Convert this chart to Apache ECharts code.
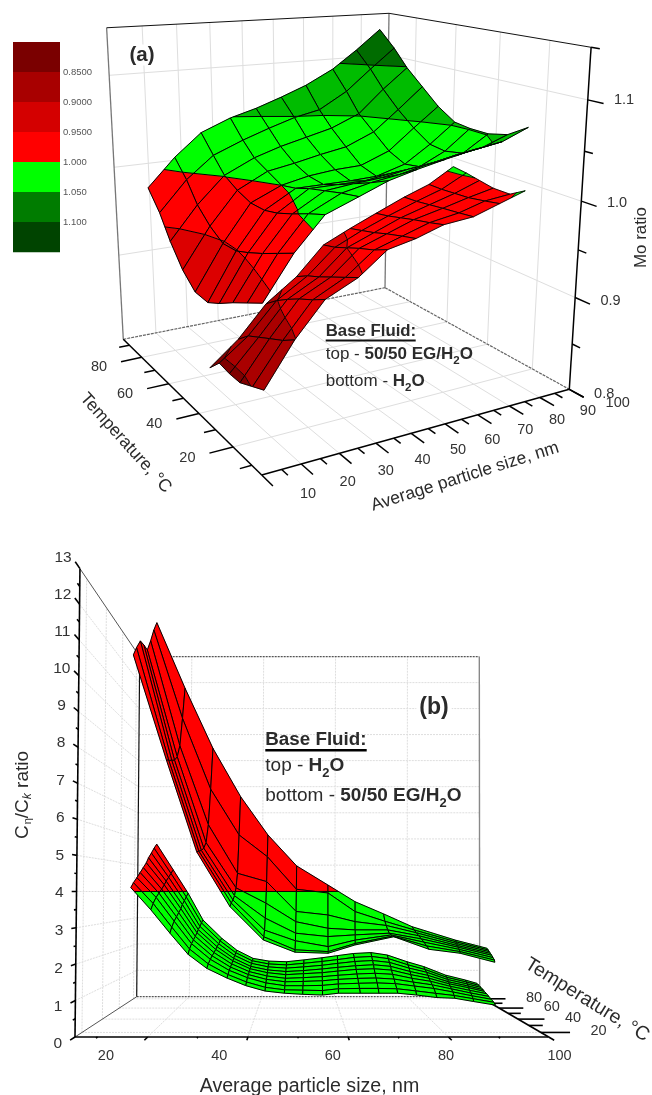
<!DOCTYPE html>
<html><head><meta charset="utf-8">
<style>html,body{margin:0;padding:0;background:#fff}#c{width:652px;height:1095px}</style>
<script src="https://cdn.jsdelivr.net/npm/echarts@6/dist/echarts.min.js"></script>
</head><body><div id="c"></div>
<script>
// ---------- legend of panel (a)
const legendColors=['#7a0000','#a80000','#d40000','#ff0000','#00ff00','#007c00','#004400'];
const legendLabels=['0.8500','0.9000','0.9500','1.000','1.050','1.100'];
// ---------- panel (a) data: Mo ratio, rows = temperature, columns = particle size
const moSizes=[6.3,14.4,22.5,31.5,39.6,47.7,55.8,64.8,72.9,81];
const moTempsEG=[86,78,71,63,55,47,40,32,24,16];
const moValuesEG=[
[.982,1.012,1.036,1.049,1.057,1.067,1.078,1.094,1.114,1.136],
[.962,.994,1.017,1.030,1.040,1.049,1.055,1.073,1.096,1.118],
[.938,.973,1.001,1.016,1.025,1.032,1.039,1.052,1.077,1.099],
[.916,.958,.992,1.008,1.013,1.019,1.024,1.037,1.059,1.082],
[.902,.948,.986,1.000,1.006,1.009,1.010,1.022,1.044,1.065],
[.901,.949,.986,1.004,1.004,1.004,1.005,1.014,1.032,1.053],
[.909,.955,.990,1.010,1.010,1.010,1.014,1.017,1.030,1.051],
[.920,.963,.997,1.015,1.018,1.020,1.025,1.029,1.034,1.051],
[.930,.972,1.005,1.020,1.026,1.030,1.036,1.042,1.046,1.056],
[.940,.981,1.012,1.024,1.035,1.042,1.048,1.054,1.058,1.069]];
const moTempsW=[47,41,35,29,22,16];
const moValuesW=[
[.832,.856,.888,.911,.940,.953,.965,.978,.988,1.004],
[.846,.868,.899,.919,.944,.957,.968,.979,.988,1.002],
[.844,.875,.908,.925,.950,.961,.972,.981,.989,.999],
[.844,.882,.916,.932,.956,.966,.976,.983,.990,.996],
[.851,.890,.924,.940,.962,.971,.980,.985,.993,.996],
[.857,.899,.932,.947,.969,.975,.984,.987,.996,1.005]];
const moLevels=[.85,.9,.95,1,1.05,1.1];
const moBandColors=['#800000','#aa0000','#dc0000','#ff0000','#00ff00','#00bc00','#006c00'];
// ---------- panel (b) data: C_eta/C_k ratio, rows = temperature, columns = particle size
const ratioTempsW=[50,45,40,35,30,25,20,16];
const ratioSizesWBack=[15.6,22.5,29.3,36,42.6,49.5,57,63.5,70.3,77.1,87.4,95];
const ratioSizesWFront=[16.1,23,29.3,36.1,42.9,49.3,56,61.4,69.3,76.4,82.7,89.7];
const ratioValuesWByCol=[
[12.92,12.48,11.94,11.47,11.44,11.38,11.0,10.65],
[10.73,9.6,8.6,8.15,7.95,7.85,7.75,7.69],
[8.73,7.3,6.1,5.5,5.3,5.2,5.15,5.11],
[7.13,5.82,4.57,4.11,3.87,3.75,3.67,3.58],
[5.86,5.12,4.31,3.64,3.2,2.87,2.71,2.65],
[4.84,4.07,3.37,3.07,2.75,2.56,2.34,2.31],
[4.21,3.95,3.26,2.87,2.65,2.39,2.29,2.28],
[3.66,3.35,3.05,2.82,2.7,2.58,2.52,2.51],
[3.26,3.04,2.93,2.82,2.75,2.73,2.73,2.74],
[2.84,2.76,2.7,2.64,2.58,2.52,2.45,2.39],
[2.40,2.38,2.36,2.34,2.33,2.31,2.29,2.28],
[2.13,2.12,2.11,2.10,2.09,2.07,2.05,2.03]];
const ratioTempsEG=[50,46,42,38,35,31,27,23,19,16];
const ratioSizesEGBack=[16,20,23.6,27.2,31.7,35.3,39.2,43,47.2,51.3,55.6,59.3,63.1,67.3,71.2,75.9,79.9,85.1,89.8,92.6];
const ratioSizesEGFront=[16,20.1,24,27.7,31.5,35.6,39.4,43.3,47.2,50.9,54.9,58.1,62.5,66.3,70.1,73.9,78,81.6,85.4,89.8];
const ratioValuesEGByCol=[
[5.56,5.40,5.22,5.05,4.88,4.72,4.56,4.40,4.25,4.11],
[4.71,4.58,4.45,4.32,4.20,4.07,3.95,3.83,3.66,3.49],
[3.94,3.82,3.70,3.59,3.47,3.36,3.25,3.14,2.99,2.84],
[3.06,2.98,2.89,2.81,2.73,2.65,2.57,2.49,2.37,2.25],
[2.46,2.40,2.34,2.28,2.22,2.16,2.10,2.04,1.95,1.86],
[2.07,2.02,1.97,1.92,1.87,1.82,1.77,1.72,1.65,1.59],
[1.80,1.76,1.72,1.67,1.63,1.59,1.55,1.51,1.44,1.38],
[1.71,1.66,1.61,1.56,1.51,1.46,1.41,1.36,1.29,1.23],
[1.69,1.63,1.57,1.51,1.45,1.39,1.34,1.28,1.22,1.17],
[1.75,1.68,1.61,1.54,1.48,1.41,1.35,1.28,1.21,1.14],
[1.82,1.74,1.66,1.59,1.51,1.44,1.37,1.29,1.20,1.12],
[1.89,1.80,1.72,1.64,1.56,1.48,1.41,1.33,1.25,1.17],
[1.96,1.87,1.78,1.69,1.61,1.52,1.44,1.35,1.26,1.17],
[1.99,1.90,1.81,1.72,1.63,1.54,1.45,1.36,1.26,1.17],
[1.91,1.83,1.75,1.67,1.59,1.51,1.42,1.34,1.25,1.17],
[1.69,1.63,1.57,1.51,1.45,1.39,1.33,1.27,1.19,1.12],
[1.53,1.48,1.44,1.39,1.34,1.30,1.25,1.20,1.12,1.05],
[1.25,1.23,1.21,1.19,1.17,1.15,1.13,1.10,1.06,1.03],
[1.09,1.08,1.07,1.06,1.05,1.03,1.01,.99,.97,.94],
[.98,.97,.96,.95,.94,.93,.91,.89,.87,.84]];
const ratioLevels=[4];
const ratioBandColors=['#00ff00','#ff0000'];
// ---------- tick values
const aSizeMajor=[10,20,30,40,50,60,70,80,90], aSizeMinor=[5,15,25,35,45,55,65,75,85];
const aSizeLabels=['10','20','30','40','50','60','70','80','90','100'];
const aTempMajor=[20,40,60,80], aTempMinor=[10,30,50,70,90];
const aZMajor=[.8,.9,1.0,1.1], aZMinor=[.85,.95,1.05,1.15];
const bSizeMajor=[20,40,60,80,100], bSizeMinor=[10,30,50,70,90];
const bTempMajor=[20,40,60,80], bTempMinor=[30,50,70];
const bZLabels=[0,1,2,3,4,5,6,7,8,9,10,11,12,13];

// ---------- perspective box: maps (size,temperature,value) to the page plane
function makePanel(c){
  const [L,R,F,D,T]=[c.L,c.R,c.F,c.D,c.T];
  const a1=L[0]-F[0],b1=R[0]-F[0],c1=D[0]-F[0],a2=L[1]-F[1],b2=R[1]-F[1],c2=D[1]-F[1];
  const det=a1*b2-a2*b1, al=(c1*b2-c2*b1)/det, be=(a1*c2-a2*c1)/det, g=c.gamma;
  return Object.assign({},c,{project(s,t,z){
    const u=(c.sRange[1]-s)/(c.sRange[1]-c.sRange[0]);
    const v=(c.tRange[1]-t)/(c.tRange[1]-c.tRange[0]);
    const w=(z-c.zRange[0])/(c.zRange[1]-c.zRange[0]);
    const W=1+u*(al-1)+v*(be-1)+w*(g-1);
    return [(D[0]+u*(al*L[0]-D[0])+v*(be*R[0]-D[0])+w*(g*T[0]-D[0]))/W,
            (D[1]+u*(al*L[1]-D[1])+v*(be*R[1]-D[1])+w*(g*T[1]-D[1]))/W, W];
  }});
}
const panelA=makePanel({L:[123.3,339.3],R:[569.3,389.3],F:[261.7,475],D:[385,287.7],T:[389,13.3],gamma:.934,sRange:[0,90],tRange:[5,95],zRange:[.8,1.15]});
const panelB=makePanel({L:[136.7,996.7],R:[548.7,1037],F:[75,1037],D:[479.7,996.7],T:[479.3,656.7],gamma:1.01,sRange:[5.5,100],tRange:[14,85],zRange:[0,13]});

const transpose=m=>m[0].map((_,i)=>m.map(r=>r[i]));

function clip(poly,level,keepAbove){
  const out=[];
  for(let i=0;i<poly.length;i++){
    const a=poly[i],b=poly[(i+1)%poly.length];
    const ia=keepAbove?a[2]>=level:a[2]<=level, ib=keepAbove?b[2]>=level:b[2]<=level;
    if(ia) out.push(a);
    if(ia!==ib){const f=(level-a[2])/(b[2]-a[2]);out.push([a[0]+f*(b[0]-a[0]),a[1]+f*(b[1]-a[1]),level]);}
  }
  return out;
}
function surfaceSeries(panel,temps,sizesBack,sizesFront,values,levels,colors,lw){
  const n=temps.length,data=[];
  const node=(i,j)=>{const f=i/(n-1);return [sizesBack[j]+f*(sizesFront[j]-sizesBack[j]),temps[i],values[i][j]];};
  for(let i=0;i<n-1;i++)for(let j=0;j<sizesBack.length-1;j++){
    data.push([...node(i,j),...node(i,j+1),...node(i+1,j+1),...node(i+1,j)]);
  }
  const depth=r=>{let d=0;for(let k=0;k<4;k++)d+=panel.project(r[k*3],r[k*3+1],r[k*3+2])[2];return d;};
  data.sort((a,b)=>depth(b)-depth(a));
  return {type:'custom',coordinateSystem:'cartesian2d',silent:true,clip:false,animation:false,data,
    renderItem(p,api){
      const q=[0,1,2,3].map(k=>[api.value(k*3),api.value(k*3+1),api.value(k*3+2)]);
      const toPts=poly=>poly.map(a=>{const r=panel.project(a[0],a[1],a[2]);return api.coord([r[0],r[1]]);});
      const children=[];
      for(let b=0;b<colors.length;b++){
        let poly=q;
        if(b>0)poly=clip(poly,levels[b-1],true);
        if(poly.length&&b<levels.length)poly=clip(poly,levels[b],false);
        if(poly.length>2)children.push({type:'polygon',shape:{points:toPts(poly)},style:{fill:colors[b],stroke:colors[b],lineWidth:.4}});
      }
      levels.forEach(l=>{
        const cr=[];
        for(let k=0;k<4;k++){const a=q[k],b=q[(k+1)%4];
          if((a[2]<l)!==(b[2]<l)){const f=(l-a[2])/(b[2]-a[2]);cr.push([a[0]+f*(b[0]-a[0]),a[1]+f*(b[1]-a[1]),l]);}}
        for(let k=0;k+1<cr.length;k+=2)children.push({type:'polyline',shape:{points:toPts([cr[k],cr[k+1]])},style:{fill:null,stroke:'#000',lineWidth:lw}});
      });
      children.push({type:'polygon',shape:{points:toPts(q)},style:{fill:null,stroke:'#000',lineWidth:lw}});
      return {type:'group',children};
    }};
}
function segSeries(panel,rows,color,width,dash){
  return {type:'custom',coordinateSystem:'cartesian2d',silent:true,clip:false,animation:false,data:rows,
    renderItem(p,api){
      const a=panel.project(api.value(0),api.value(1),api.value(2)),b=panel.project(api.value(3),api.value(4),api.value(5));
      return {type:'line',shape:(()=>{const A=api.coord([a[0],a[1]]),B=api.coord([b[0],b[1]]);return {x1:A[0],y1:A[1],x2:B[0],y2:B[1]};})(),
        style:{stroke:color,lineWidth:width,lineDash:dash||null}};
    }};
}
function labelSeries(panel,items,size,fill){
  return {type:'custom',coordinateSystem:'cartesian2d',silent:true,clip:false,animation:false,
    data:items.map(i=>[i.s,i.t,i.z,i.dx,i.dy]),
    renderItem(p,api){
      const r=panel.project(api.value(0),api.value(1),api.value(2)),c=api.coord([r[0]+api.value(3),r[1]+api.value(4)]);
      return {type:'text',x:c[0],y:c[1],style:{text:items[p.dataIndex].text,fontFamily:'Liberation Sans',fontSize:size,fill,align:'center',verticalAlign:'middle',textAlign:'center',textVerticalAlign:'middle'}};
    }};
}
const GRID='#dedede',series=[];
// ---------- panel (a) frame
const A={s0:0,s1:90,t0:5,t1:95,z0:.8,z1:1.15};
const aGrid=[];
[10,20,30,40,50,60,70,80].forEach(s=>{aGrid.push([s,A.t0,A.z0,s,A.t1,A.z0],[s,A.t1,A.z0,s,A.t1,A.z1]);});
[20,40,60,80].forEach(t=>{aGrid.push([A.s0,t,A.z0,A.s1,t,A.z0],[A.s1,t,A.z0,A.s1,t,A.z1]);});
[.9,1.0,1.1].forEach(z=>{aGrid.push([A.s0,A.t1,z,A.s1,A.t1,z],[A.s1,A.t1,z,A.s1,A.t0,z]);});
series.push(segSeries(panelA,aGrid,GRID,1));
series.push(segSeries(panelA,[[A.s0,A.t1,A.z0,A.s1,A.t1,A.z0],[A.s1,A.t1,A.z0,A.s1,A.t0,A.z0]],'#666',1.2,[3,1]));
series.push(segSeries(panelA,[[A.s0,A.t1,A.z0,A.s0,A.t1,A.z1],[A.s1,A.t1,A.z0,A.s1,A.t1,A.z1]],'#777',1.3));
series.push(segSeries(panelA,[[A.s0,A.t1,A.z1,A.s1,A.t1,A.z1],[A.s1,A.t1,A.z1,A.s1,A.t0,A.z1]],'#111',1));
const aTicks=[[A.s0,A.t0,A.z0,A.s0,A.t0-5.5,A.z0],[A.s0,A.t0,A.z0,A.s0,A.t1,A.z0],[A.s0,A.t0,A.z0,A.s1,A.t0,A.z0],[A.s1,A.t0,A.z0,A.s1,A.t0,A.z1]];
aSizeMajor.forEach(s=>aTicks.push([s,A.t0,A.z0,s,A.t0-5.5,A.z0]));
aSizeMinor.forEach(s=>aTicks.push([s,A.t0,A.z0,s,A.t0-3,A.z0]));
aTempMajor.forEach(t=>aTicks.push([A.s0,t,A.z0,A.s0-6,t,A.z0]));
aTempMinor.forEach(t=>aTicks.push([A.s0,t,A.z0,A.s0-3,t,A.z0]));
aZMajor.forEach(z=>aTicks.push([A.s1,A.t0,z,A.s1,A.t0-5.5,z]));
aZMinor.forEach(z=>aTicks.push([A.s1,A.t0,z,A.s1,A.t0-3,z]));
series.push(segSeries(panelA,aTicks,'#000',1.5));
series.push(surfaceSeries(panelA,moTempsW,moSizes,moSizes,moValuesW,moLevels,moBandColors,.9));
series.push(surfaceSeries(panelA,moTempsEG,moSizes,moSizes,moValuesEG,moLevels,moBandColors,1));
series.push(labelSeries(panelA,aSizeLabels.map((x,i)=>({s:+x,t:A.t0-5.5,z:A.z0,dx:-5+i*1.15,dy:19-i*.6,text:x})),14.5,'#333'));
series.push(labelSeries(panelA,aTempMajor.map(t=>({s:A.s0-6,t,z:A.z0,dx:-22,dy:5,text:String(t)})),14.5,'#333'));
series.push(labelSeries(panelA,aZMajor.map(z=>({s:A.s1,t:A.t0-5.5,z,dx:20.5,dy:-3,text:z.toFixed(1)})),14.5,'#333'));
// ---------- panel (b) frame
const B={s0:5.5,s1:100,t0:14,t1:85,z0:0,z1:13};
const bGrid=[];
[20,40,60,80].forEach(s=>{bGrid.push([s,B.t0,0,s,B.t1,0],[s,B.t1,0,s,B.t1,13]);});
[20,40,60,80].forEach(t=>{bGrid.push([B.s0,t,0,B.s1,t,0],[B.s0,t,0,B.s0,t,13]);});
for(let z=1;z<13;z++)bGrid.push([B.s0,B.t1,z,B.s1,B.t1,z],[B.s0,B.t0,z,B.s0,B.t1,z]);
series.push(segSeries(panelB,bGrid,GRID,1,[2,1]));
series.push(segSeries(panelB,[[B.s0,B.t1,0,B.s1,B.t1,0],[B.s0,B.t1,13,B.s1,B.t1,13]],'#555',1.2,[2,1]));
series.push(segSeries(panelB,[[B.s1,B.t1,0,B.s1,B.t1,13]],'#888',1.4));
series.push(segSeries(panelB,[[B.s0,B.t1,0,B.s0,B.t1,13]],'#111',1.2));
series.push(segSeries(panelB,[[B.s0,B.t0,0,B.s0,B.t1,0],[B.s0,B.t0,13,B.s0,B.t1,13]],'#555',1));
const bTicks=[[B.s0,B.t0,0,B.s1,B.t0,0],[B.s0,B.t0,0,B.s0,B.t0,13],[B.s1,B.t0,0,B.s1,B.t1,0]];
bSizeMajor.forEach(s=>bTicks.push([s,B.t0,0,s,B.t0-4,0]));
bSizeMinor.forEach(s=>bTicks.push([s,B.t0,0,s,B.t0-1.5,0]));
bTempMajor.forEach(t=>bTicks.push([B.s1,t,0,B.s1+6,t,0]));
bTempMinor.forEach(t=>bTicks.push([B.s1,t,0,B.s1+3,t,0]));
for(let i=0;i<=26;i++){const z=i/2;bTicks.push([B.s0,B.t0,z,B.s0,B.t0-(i%2?2:4),z]);}
series.push(segSeries(panelB,bTicks,'#000',1.6));
series.push(surfaceSeries(panelB,ratioTempsEG,ratioSizesEGBack,ratioSizesEGFront,transpose(ratioValuesEGByCol),ratioLevels,ratioBandColors,1));
series.push(surfaceSeries(panelB,ratioTempsW,ratioSizesWBack,ratioSizesWFront,transpose(ratioValuesWByCol),ratioLevels,ratioBandColors,1));
series.push(labelSeries(panelB,bZLabels.map(z=>({s:B.s0,t:7,z,dx:-8.5,dy:1.5,text:String(z)})),15.5,'#333'));
series.push(labelSeries(panelB,bSizeMajor.map(s=>({s,t:-7.6,z:0,dx:-22,dy:0,text:String(s)})),14.5,'#333'));
series.push(labelSeries(panelB,bTempMajor.map(t=>({s:B.s1+6,t,z:0,dx:28.5,dy:-1,text:String(t)})),14.5,'#333'));

// ---------- annotations
const FF='Liberation Sans', INK='#2b2b2b';
const txt=(x,y,text,size,extra,rot)=>({type:'text',x,y,z:100,rotation:(rot||0)*Math.PI/180,silent:true,
  style:Object.assign({text,fontFamily:FF,fontSize:size,fill:INK,align:'center',verticalAlign:'middle'},extra||{})});
const richStyle=s=>({rich:{
  n:{fontFamily:FF,fontSize:s,fill:INK,color:INK},
  b:{fontFamily:FF,fontSize:s,fontWeight:'bold',fill:INK,color:INK},
  s:{fontFamily:FF,fontSize:s*.68,fontWeight:'bold',fill:INK,color:INK,padding:[s*.75,0,0,0]}},align:'left',verticalAlign:'middle'});
const graphics=[];
legendColors.forEach((c,i)=>graphics.push({type:'rect',z:100,silent:true,shape:{x:13,y:42+i*30,width:47,height:30.2},style:{fill:c}}));
legendLabels.forEach((t,i)=>graphics.push(txt(63,72.7+i*30,t,9.5,{align:'left',fill:'#555'})));
graphics.push(txt(142,55,'(a)',20.5,{fontWeight:'bold',backgroundColor:'#fff',padding:[0,3,0,3]}));
graphics.push(txt(434,708,'(b)',23,{fontWeight:'bold',backgroundColor:'#fff',padding:[0,3,0,3]}));
graphics.push(txt(325.7,331.5,'Base Fluid:',16.8,{fontWeight:'bold',align:'left'}));
graphics.push({type:'line',z:100,silent:true,shape:{x1:325.7,y1:340.5,x2:415.7,y2:340.5},style:{stroke:'#111',lineWidth:1.8}});
graphics.push(txt(325.7,354,'{n|top - }{b|50/50 EG/H}{s|2}{b|O}',17,richStyle(17)));
graphics.push(txt(325.7,381,'{n|bottom - }{b|H}{s|2}{b|O}',17,richStyle(17)));
graphics.push(txt(265.3,740,'Base Fluid:',18.8,{fontWeight:'bold',align:'left'}));
graphics.push({type:'line',z:100,silent:true,shape:{x1:265.3,y1:750.3,x2:366.7,y2:750.3},style:{stroke:'#000',lineWidth:2.4}});
graphics.push(txt(265.3,766,'{n|top - }{b|H}{s|2}{b|O}',19,richStyle(19)));
graphics.push(txt(265.3,796,'{n|bottom - }{b|50/50 EG/H}{s|2}{b|O}',19,richStyle(19)));
graphics.push(txt(125.7,443,'Temperature, °C',17.5,null,-48));
graphics.push(txt(465,476.7,'Average particle size, nm',17.5,null,17.5));
graphics.push(txt(641.5,237.5,'Mo ratio',16.9,null,90));
graphics.push(txt(309.5,1086.5,'Average particle size, nm',19.6));
graphics.push(txt(587,1000,'Temperature, °C',19.5,null,-31.7));
graphics.push({type:'text',z:100,x:23,y:795,rotation:Math.PI/2,silent:true,style:{
  text:'{c|C}{u|η}{c|/C}{k|k}{c| ratio}',align:'center',verticalAlign:'middle',
  rich:{c:{fontFamily:FF,fontSize:19,fill:INK,color:INK},
        u:{fontFamily:FF,fontSize:11,fill:INK,color:INK,padding:[10,0,0,1]},
        k:{fontFamily:FF,fontSize:12,fontStyle:'italic',fill:INK,color:INK,padding:[9,0,0,0]}}}});

const chart=echarts.init(document.getElementById('c'),null,{width:652,height:1095});
chart.setOption({animation:false,backgroundColor:'#fff',
  grid:{left:0,right:0,top:0,bottom:0},
  xAxis:{type:'value',min:0,max:652,show:false},
  yAxis:{type:'value',min:0,max:1095,inverse:true,show:false},
  series,graphic:{elements:graphics}});
</script></body></html>
